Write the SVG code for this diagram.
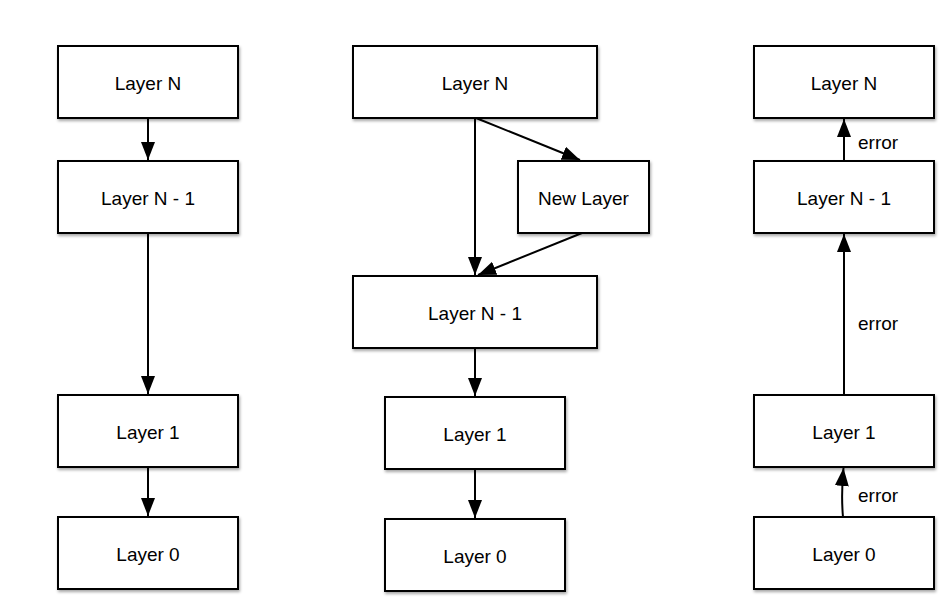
<svg xmlns="http://www.w3.org/2000/svg" width="942" height="600" viewBox="0 0 942 600">
<style>
.box{fill:#fff;stroke:#000;stroke-width:2;filter:url(#sh)}
.lbl{font-family:"Liberation Sans",Arial,sans-serif;font-size:19px;fill:#000;text-anchor:middle}
.elbl{font-family:"Liberation Sans",Arial,sans-serif;font-size:19px;fill:#000}
.ln{fill:none;stroke:#000;stroke-width:2;marker-end:url(#ah)}
</style>
<defs>
<filter id="sh" x="-10%" y="-10%" width="130%" height="140%">
<feDropShadow dx="1" dy="2" stdDeviation="1.5" flood-color="#000" flood-opacity="0.35"/>
</filter>
<marker id="ah" markerUnits="userSpaceOnUse" markerWidth="19" markerHeight="15" refX="18" refY="7" orient="auto">
<path d="M0,0 L18,7 L0,14 z" fill="#000"/>
</marker>
</defs>
<rect width="942" height="600" fill="#fff"/>
<g id="connectors">
<line class="ln" x1="148" y1="118" x2="148" y2="160"/>
<line class="ln" x1="148" y1="233" x2="148" y2="394"/>
<line class="ln" x1="148" y1="467" x2="148" y2="516"/>
<line class="ln" x1="475" y1="118" x2="475" y2="275"/>
<line class="ln" x1="476" y1="118" x2="580" y2="160"/>
<line class="ln" x1="582" y1="233" x2="478" y2="275"/>
<line class="ln" x1="475" y1="348" x2="475" y2="396"/>
<line class="ln" x1="475" y1="469" x2="475" y2="518"/>
<line class="ln" x1="844" y1="161" x2="844" y2="119"/>
<line class="ln" x1="844" y1="395" x2="844" y2="234"/>
<path class="ln" d="M843,517 Q841,495 843.5,468"/>
<text class="elbl" x="858" y="149">error</text>
<text class="elbl" x="858" y="330">error</text>
<text class="elbl" x="858" y="502">error</text>
</g>
<g id="l-layerN"><rect class="box" x="58" y="46" width="180" height="72"/><text class="lbl" x="148" y="90">Layer N</text></g>
<g id="l-layerN1"><rect class="box" x="58" y="161" width="180" height="72"/><text class="lbl" x="148" y="205">Layer N - 1</text></g>
<g id="l-layer1"><rect class="box" x="58" y="395" width="180" height="72"/><text class="lbl" x="148" y="439">Layer 1</text></g>
<g id="l-layer0"><rect class="box" x="58" y="517" width="180" height="72"/><text class="lbl" x="148" y="561">Layer 0</text></g>
<g id="m-layerN"><rect class="box" x="353" y="46" width="244" height="72"/><text class="lbl" x="475" y="90">Layer N</text></g>
<g id="m-new"><rect class="box" x="518" y="161" width="131" height="72"/><text class="lbl" x="583.5" y="205">New Layer</text></g>
<g id="m-layerN1"><rect class="box" x="353" y="276" width="244" height="72"/><text class="lbl" x="475" y="320">Layer N - 1</text></g>
<g id="m-layer1"><rect class="box" x="385" y="397" width="180" height="72"/><text class="lbl" x="475" y="441">Layer 1</text></g>
<g id="m-layer0"><rect class="box" x="385" y="519" width="180" height="72"/><text class="lbl" x="475" y="563">Layer 0</text></g>
<g id="r-layerN"><rect class="box" x="754" y="46" width="180" height="72"/><text class="lbl" x="844" y="90">Layer N</text></g>
<g id="r-layerN1"><rect class="box" x="754" y="161" width="180" height="72"/><text class="lbl" x="844" y="205">Layer N - 1</text></g>
<g id="r-layer1"><rect class="box" x="754" y="395" width="180" height="72"/><text class="lbl" x="844" y="439">Layer 1</text></g>
<g id="r-layer0"><rect class="box" x="754" y="517" width="180" height="72"/><text class="lbl" x="844" y="561">Layer 0</text></g>
</svg>
